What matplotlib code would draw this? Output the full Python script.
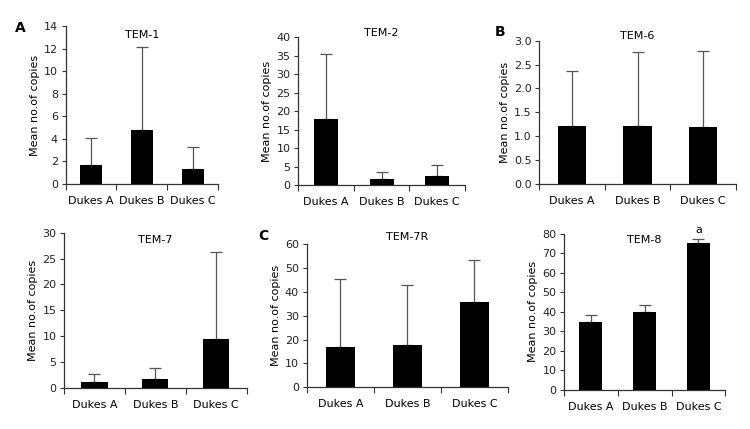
import numpy as np
import matplotlib
matplotlib.use('Agg')
import matplotlib.pyplot as plt

plt.rcParams['font.family'] = ['DejaVu Sans']
plt.rcParams['font.size'] = 8

# data
groups = ['Dukes A', 'Dukes B', 'Dukes C']
names = ['TEM-1', 'TEM-2', 'TEM-6', 'TEM-7', 'TEM-7R', 'TEM-8']
means = [[1.7, 4.8, 1.3],
         [18.0, 1.8, 2.5],
         [1.22, 1.21, 1.19],
         [1.1, 1.6, 9.5],
         [17.0, 17.7, 36.0],
         [35.0, 40.0, 75.0]]
upper = [[4.1, 12.1, 3.3],
         [35.5, 3.7, 5.5],
         [2.37, 2.76, 2.78],
         [2.6, 3.8, 26.3],
         [45.3, 43.0, 53.5],
         [38.5, 43.5, 77.5]]
ymax = [14, 40, 3.0, 30, 60, 80]
ystep = [2, 5, 0.5, 5, 10, 10]
panel_letters = {0: 'A', 2: 'B', 4: 'C'}

W, H = 750, 429
# axes boxes in pixels: left, right, top, bottom
boxes = [(65.7, 218, 26, 184),
         (298.3, 465, 37.3, 185.3),
         (539.3, 735.7, 40.7, 183.7),
         (64, 246.7, 232.7, 387.7),
         (306.7, 508, 244.3, 387.3),
         (564, 725.3, 233.7, 390)]
title_y = [0.94, 1.03, 1.03, 0.95, 1.05, 0.96]
letter_pos = [(20, 28), None, (500, 32), None, (263, 236), None]

fig = plt.figure(figsize=(W / 100, H / 100), dpi=100)
dark = '#333333'

for i in range(6):
    l, r, t, b = boxes[i]
    ax = fig.add_axes([l / W, 1 - b / H, (r - l) / W, (b - t) / H])
    x = np.arange(3) + 0.5
    m = np.array(means[i])
    err = np.array(upper[i]) - m
    ax.bar(x, m, width=0.43, color='black', zorder=3)
    ax.errorbar(x, m, yerr=[np.zeros(3), err], fmt='none', ecolor='#555555',
                elinewidth=0.9, capsize=4, capthick=0.9, zorder=2)
    ax.set_xlim(0, 3)
    ax.set_ylim(0, ymax[i])
    yt = np.arange(0, ymax[i] + ystep[i] / 2, ystep[i])
    ax.set_yticks(yt)
    if ystep[i] < 1:
        ax.set_yticklabels(['%.1f' % v for v in yt])
    ax.set_xticks([0, 1, 2, 3])
    ax.set_xticklabels([])
    ax.set_xticks(x, minor=True)
    ax.set_xticklabels(groups, minor=True)
    ax.tick_params(axis='x', which='minor', length=0, pad=8.5)
    ax.tick_params(axis='x', which='major', length=4, color=dark)
    ax.tick_params(axis='y', length=3, color=dark, pad=2.5, labelcolor='#222222')
    ax.tick_params(axis='x', labelcolor='#222222')
    for s in ['top', 'right']:
        ax.spines[s].set_visible(False)
    for s in ['left', 'bottom']:
        ax.spines[s].set_color(dark)
        ax.spines[s].set_linewidth(0.9)
    ax.set_ylabel('Mean no.of copies', labelpad=3)
    ax.text(0.5, title_y[i], names[i], transform=ax.transAxes,
            ha='center', va='center', fontsize=8)
    if names[i] == 'TEM-8':
        ax.text(x[2], upper[i][2] + 2, 'a', ha='center', va='bottom', fontsize=8,
                clip_on=False)
    if letter_pos[i] is not None:
        px, py = letter_pos[i]
        fig.text(px / W, 1 - py / H, panel_letters[i], fontsize=10,
                 fontweight='bold', ha='center', va='center')

fig.savefig('out.png', dpi=100)
